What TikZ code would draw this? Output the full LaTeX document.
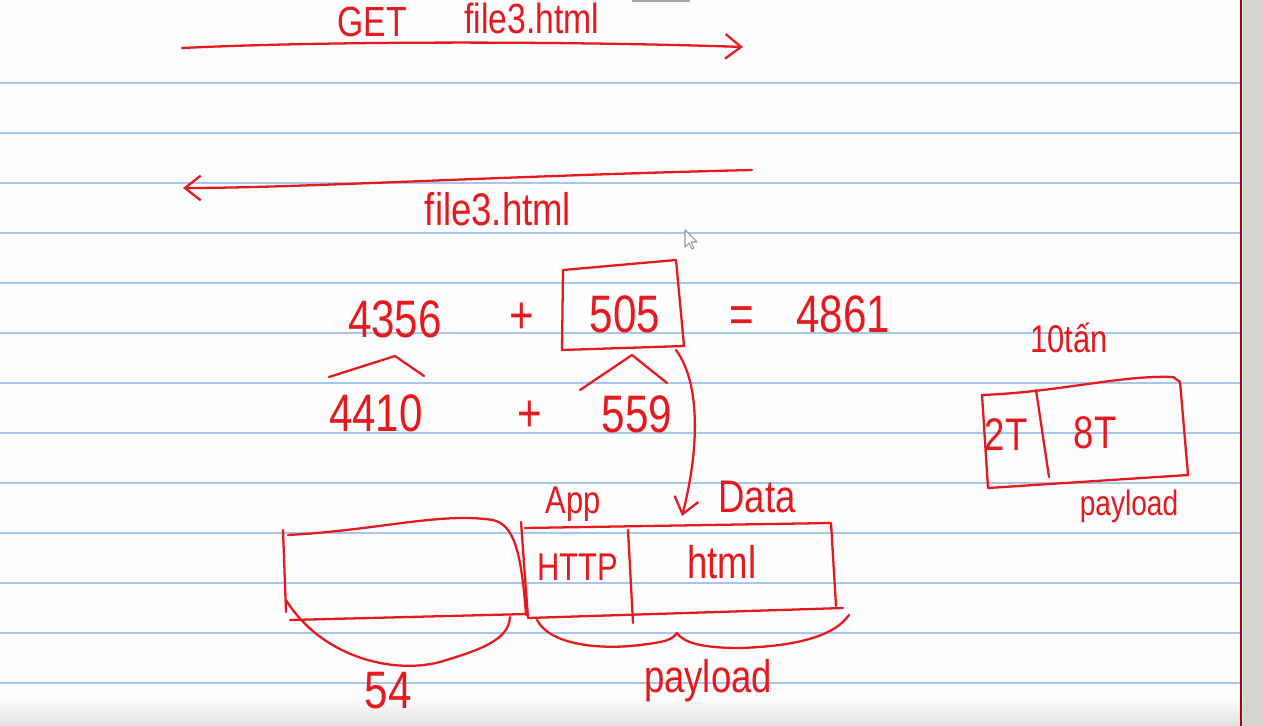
\documentclass[tikz,border=0pt]{standalone}
\usepackage{fontspec}
\newfontfamily\handfont[FakeStretch=0.8]{Liberation Sans}
\usepackage{xcolor}
\usepackage{tikz}
\usetikzlibrary{calc, arrows.meta, positioning}

\definecolor{pen}{RGB}{230,25,30}
\definecolor{ruleblue}{RGB}{168,198,235}
\definecolor{marginGray}{RGB}{214,212,209}
\definecolor{paper}{RGB}{253,253,253}

\tikzset{
    ink/.style={draw=pen, line width=1.3pt, line cap=round, line join=round},
    digit/.style={text=pen, inner sep=0pt, anchor=base, font=\handfont\fontsize{30}{32}\selectfont},
    hand/.style={text=pen, inner sep=0pt, anchor=base, font=\handfont\fontsize{26}{28}\selectfont},
    handsmall/.style={text=pen, inner sep=0pt, anchor=base, font=\handfont\fontsize{22}{24}\selectfont}
}

\begin{document}
\begin{tikzpicture}[x=0.02cm, y=-0.02cm, >={Straight Barb[length=9pt,width=14pt]}]
    % 1. Nền giấy kẻ dòng
    \clip (0,0) rectangle (1263,726);
    \fill[paper] (0,0) rectangle (1243,726);
    \fill[marginGray] (1243,0) rectangle (1263,726);
    \shade[top color=paper, bottom color=black!12] (0,698) rectangle (1243,726);
    \foreach \y in {83,133,...,683}
        \draw[ruleblue, line width=0.8pt] (0,\y) -- (1241,\y);
    \draw[red!70!black, line width=0.6pt] (1241,0) -- (1241,726);
    \fill[gray!70] (632,0) rectangle (690,2);

    % 2. Yêu cầu GET
    \node[hand, font=\handfont\fontsize{24}{26}\selectfont] (get) at (372,37) {GET};
    \node[hand, font=\handfont\fontsize{24}{26}\selectfont] (reqFile) at (532,34) {file3.html};
    \coordinate (cli1) at (182,48);
    \coordinate (srv1) at (743,47);
    \draw[ink, ->] (cli1) .. controls (350,40) and (600,42) .. (srv1);

    % 3. Trả về file
    \coordinate (srv2) at (752,170);
    \coordinate (cli2) at (183,188);
    \draw[ink, ->] (srv2) .. controls (500,176) and (300,188) .. (cli2);
    \node[hand] (resFile) at (498,225) {file3.html};
    \draw[gray!80, fill=white, line width=0.6pt, line join=round]
        (685,230) -- (685,247) -- (689,243) -- (692,249) -- (694,248) -- (691,242) -- (697,242) -- cycle;

    % 4. Số thứ tự
    \node[digit] (seqA) at (395,337) {4356};
    \node[digit, anchor=center] (plusA) at (522,318) {+};
    \node[digit] (lenA) at (625,332) {505};
    \draw[ink] (562,350) -- (563,270) -- (676,260) -- (684,346) -- cycle;
    \coordinate (boxEnd) at (676,350);
    \node[digit, anchor=center] (eqA) at (742,320) {=};
    \node[digit] (seqB) at (843,332) {4861};
    \draw[ink] (329,377) -- (395,356) -- (424,376);
    \draw[ink] (580,390) -- (632,355) -- (667,383);
    \node[digit] (ackA) at (376,431) {4410};
    \node[digit, anchor=center] (plusB) at (530,416) {+};
    \node[digit] (lenB) at (637,432) {559};

    % 5. Gói tin
    \coordinate (dataTip) at (682,516);
    \draw[ink, ->] (boxEnd) .. controls (702,385) and (698,455) .. (dataTip);
    \draw[ink] (283,530) -- (286,612);
    \draw[ink] (288,535) .. controls (380,530) and (440,512) .. (493,520)
        .. controls (512,525) and (521,545) .. (526,615);
    \draw[ink] (290,620) -- (527,614);
    \draw[ink] (521,522) -- (528,618) -- (843,608);
    \draw[ink] (525,528) -- (831,523) -- (836,606);
    \draw[ink] (628,530) -- (633,623);
    \node[handsmall] (app) at (573,513) {App};
    \node[hand] (data) at (757,512) {Data};
    \node[handsmall] (http) at (578,580) {HTTP};
    \node[hand] (html) at (722,578) {html};
    \draw[ink] (286,600) .. controls (320,655) and (390,675) .. (440,662)
        .. controls (480,650) and (509,640) .. (510,617);
    \node[digit] (hdrLen) at (388,708) {54};
    \draw[ink] (537,620) .. controls (550,645) and (600,650) .. (640,645)
        .. controls (665,642) and (672,640) .. (677,633)
        .. controls (683,642) and (700,648) .. (740,648)
        .. controls (800,646) and (835,635) .. (849,615);
    \node[hand] (payload) at (708,692) {payload};

    % 6. Ví dụ 10 tấn
    \node[handsmall] (ton) at (1069,352) {10tấn};
    \draw[ink] (982,395) .. controls (1060,392) and (1120,375) .. (1173,377)
        -- (1180,382) -- (1188,475) -- (988,488) -- cycle;
    \draw[ink] (1036,390) -- (1049,477);
    \node[hand] (twoT) at (1006,450) {2T};
    \node[hand] (eightT) at (1095,448) {8T};
    \node[handsmall, font=\handfont\fontsize{20}{22}\selectfont] (payloadT) at (1129,515) {payload};
\end{tikzpicture}
\end{document}
